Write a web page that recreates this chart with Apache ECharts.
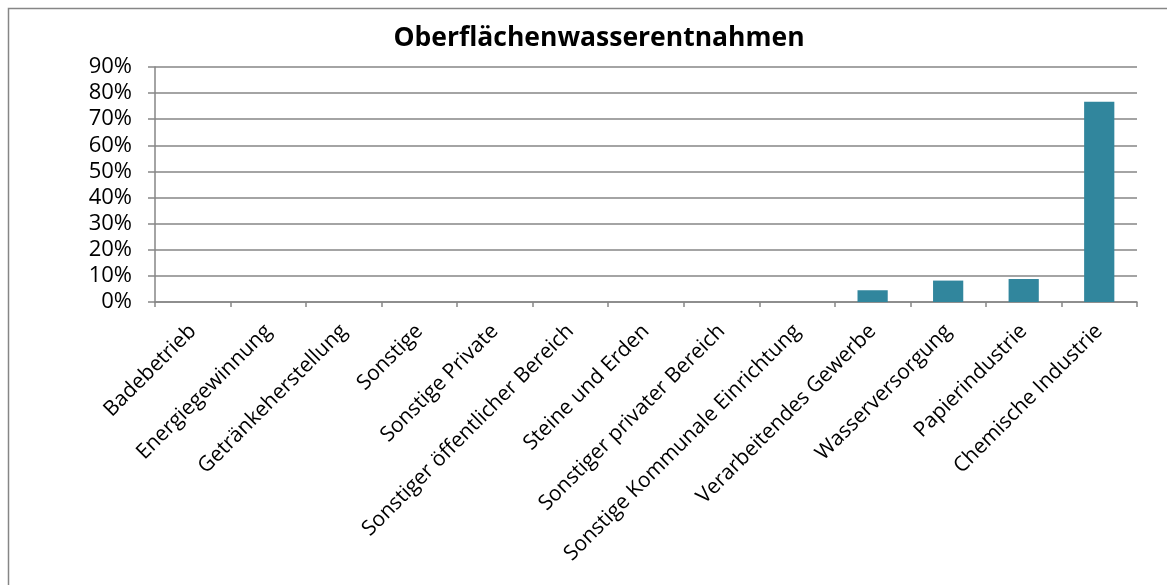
<!DOCTYPE html>
<html><head><meta charset="utf-8">
<script src="https://cdn.jsdelivr.net/npm/echarts@6/dist/echarts.min.js"></script>
<style>html,body{margin:0;padding:0;background:#fff}#c{width:1167px;height:585px}</style>
</head><body><div id="c"></div>
<script>
const categories = ["Badebetrieb","Energiegewinnung","Getränkeherstellung","Sonstige","Sonstige Private","Sonstiger öffentlicher Bereich","Steine und Erden","Sonstiger privater Bereich","Sonstige Kommunale Einrichtung","Verarbeitendes Gewerbe","Wasserversorgung","Papierindustrie","Chemische Industrie"];
const values = [0,0,0,0,0,0,0,0,0,4.5,8.2,8.8,76.7];
const titleText = "Oberflächenwasserentnahmen";
const font = "Open Sans";
const chart = echarts.init(document.getElementById('c'));
chart.setOption({
  animation:false,
  title:{text:titleText,left:594,top:20,textAlign:'center',textStyle:{fontFamily:font,fontWeight:'bold',fontSize:26.5,color:'#000'}},
  graphic:[{type:'rect',shape:{x:8.5,y:8.5,width:1200,height:600},style:{fill:'none',stroke:'#868686',lineWidth:1.5}}],
  grid:{left:155,right:30,top:67,bottom:283,containLabel:false},
  xAxis:{type:'category',data:categories,
    axisLine:{lineStyle:{color:'#868686',width:1.5}},
    axisTick:{show:true,alignWithLabel:false,length:5,lineStyle:{color:'#868686',width:1.5}},
    axisLabel:{rotate:45,interval:0,margin:26,fontFamily:font,fontSize:21,color:'#000'}},
  yAxis:{type:'value',min:0,max:90,interval:10,
    axisLine:{show:true,lineStyle:{color:'#868686',width:1.5}},
    axisTick:{show:true,length:7,lineStyle:{color:'#868686',width:1.5}},
    splitLine:{lineStyle:{color:'#868686',width:1.5}},
    axisLabel:{formatter:'{value}%',margin:23,fontFamily:font,fontSize:22,color:'#000'}},
  series:[{type:'bar',data:values,barWidth:'40%',itemStyle:{color:'#31869D'}}]
});
</script></body></html>
